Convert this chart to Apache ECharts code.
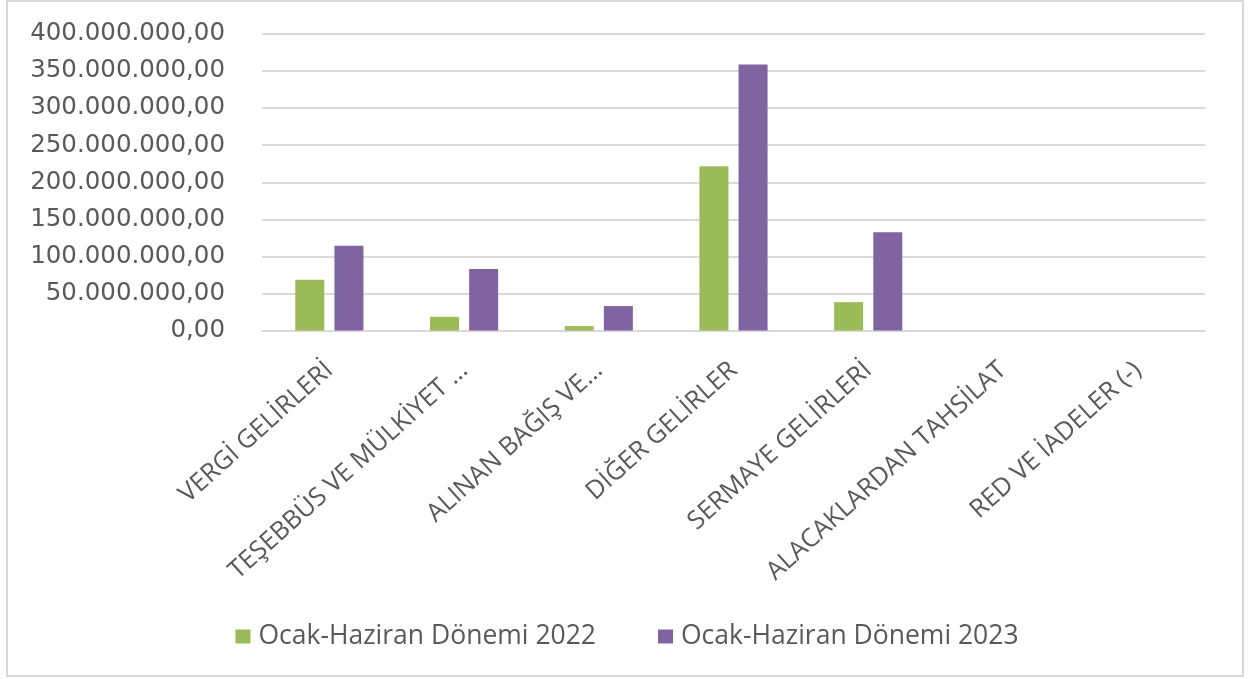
<!DOCTYPE html>
<html>
<head>
<meta charset="utf-8">
<script src="https://cdn.jsdelivr.net/npm/echarts@6/dist/echarts.min.js"></script>
<style>
html, body { margin: 0; padding: 0; background: #fff; }
#main { width: 1254px; height: 679px; }
</style>
</head>
<body>
<div id="main"></div>
<script>
// kategoriler ve seriler
var categories = ['VERGİ GELİRLERİ', 'TEŞEBBÜS VE MÜLKİYET …', 'ALINAN BAĞIŞ VE…', 'DİĞER GELİRLER', 'SERMAYE GELİRLERİ', 'ALACAKLARDAN TAHSİLAT', 'RED VE İADELER (-)'];
var seriesNames = ['Ocak-Haziran Dönemi 2022', 'Ocak-Haziran Dönemi 2023'];
var values2022 = [68500000, 18500000, 6000000, 221500000, 38300000, 0, 0];
var values2023 = [114500000, 83000000, 33000000, 359000000, 132400000, 0, 0];
var yTicks = { min: 0, max: 400000000, interval: 50000000 };

var myChart = echarts.init(document.getElementById('main'));

// 400.000.000,00 biçimi
var fmt = function (v) {
    var s = String(Math.round(v)).replace(/\B(?=(\d{3})+(?!\d))/g, '.');
    return s + ',00';
};

var option = {
    backgroundColor: '#fff',
    animation: false,
    color: ['#9BBB59', '#8064A2'],
    graphic: [{
        type: 'rect',
        shape: { x: 7, y: 1, width: 1236, height: 675 },
        style: { fill: 'none', stroke: '#d9d9d9', lineWidth: 2 },
        silent: true
    }],
    legend: {
        left: 'center',
        top: 618,
        itemWidth: 15,
        itemHeight: 14,
        itemGap: 62,
        icon: 'rect',
        textStyle: {
            fontFamily: '"Open Sans", sans-serif',
            fontSize: 26.5,
            color: '#595959',
            padding: [0, 0, 0, 3]
        },
        data: seriesNames
    },
    grid: {
        left: 262,
        right: 49,
        top: 34,
        bottom: 348.5
    },
    xAxis: {
        type: 'category',
        data: categories,
        axisLine: { lineStyle: { color: '#d9d9d9', width: 2 } },
        axisTick: { show: false },
        axisLabel: {
            rotate: 42,
            interval: 0,
            margin: 36,
            fontFamily: '"Open Sans", sans-serif',
            fontSize: 25.5,
            color: '#595959'
        }
    },
    yAxis: {
        type: 'value',
        min: yTicks.min,
        max: yTicks.max,
        interval: yTicks.interval,
        axisLine: { show: false },
        axisTick: { show: false },
        splitLine: { lineStyle: { color: '#d9d9d9', width: 2 } },
        axisLabel: {
            margin: 37,
            formatter: fmt,
            fontFamily: '"DejaVu Sans", sans-serif',
            fontSize: 24.5,
            color: '#595959'
        }
    },
    series: [{
        name: seriesNames[0],
        type: 'bar',
        barWidth: 29,
        barGap: '35%',
        data: values2022
    }, {
        name: seriesNames[1],
        type: 'bar',
        barWidth: 29,
        barGap: '35%',
        data: values2023
    }]
};

myChart.setOption(option);
</script>
</body>
</html>
